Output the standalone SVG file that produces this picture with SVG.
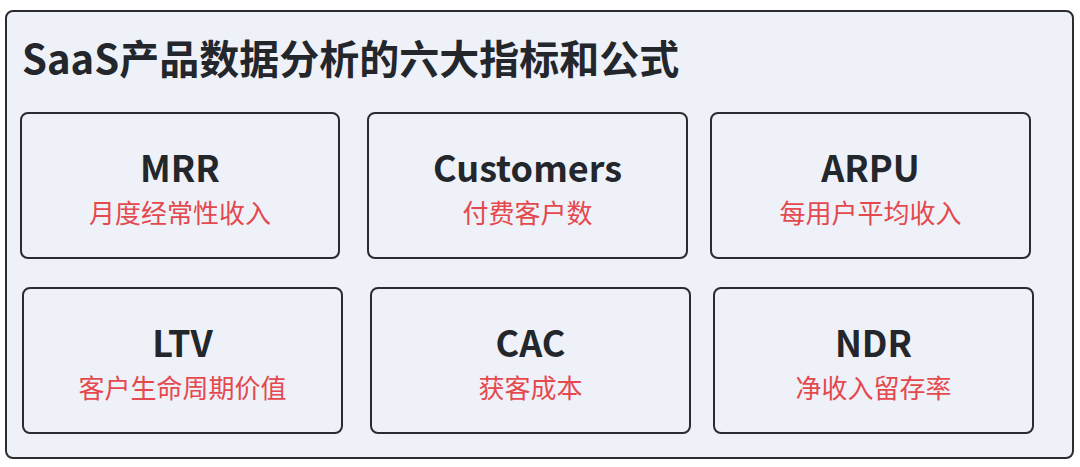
<svg xmlns="http://www.w3.org/2000/svg" width="1080" height="467" viewBox="0 0 1080 467">
<style>
.frame{fill:#eef1f8;stroke:#2a2c30;stroke-width:2}
.node{fill:#eef1f8;stroke:#2a2c30;stroke-width:2}
.title{font-family:"Noto Sans CJK SC","Noto Sans",sans-serif;font-weight:700;font-size:40px;fill:#23262b}
.name{font-family:"Noto Sans CJK SC","Noto Sans",sans-serif;font-weight:700;font-size:36px;fill:#23262b;text-anchor:middle}
.desc{font-family:"Noto Sans CJK SC","Noto Sans",sans-serif;font-weight:400;font-size:26px;fill:#e5484d;text-anchor:middle}
</style>
<rect width="1080" height="467" fill="#ffffff"/>
<rect class="frame" x="6" y="11" width="1067" height="447" rx="7"/>
<text class="title" x="22" y="74">SaaS产品数据分析的六大指标和公式</text>
<g id="mrr">
<rect class="node" x="21" y="113" width="318" height="145" rx="7"/>
<text class="name" x="180" y="182">MRR</text>
<text class="desc" x="180" y="223">月度经常性收入</text>
</g>
<g id="customers">
<rect class="node" x="368" y="113" width="319" height="145" rx="7"/>
<text class="name" x="527.5" y="182">Customers</text>
<text class="desc" x="527.5" y="223">付费客户数</text>
</g>
<g id="arpu">
<rect class="node" x="711" y="113" width="319" height="145" rx="7"/>
<text class="name" x="870.5" y="182">ARPU</text>
<text class="desc" x="870.5" y="223">每用户平均收入</text>
</g>
<g id="ltv">
<rect class="node" x="23" y="288" width="319" height="145" rx="7"/>
<text class="name" x="182.5" y="357">LTV</text>
<text class="desc" x="182.5" y="398">客户生命周期价值</text>
</g>
<g id="cac">
<rect class="node" x="371" y="288" width="319" height="145" rx="7"/>
<text class="name" x="530.5" y="357">CAC</text>
<text class="desc" x="530.5" y="398">获客成本</text>
</g>
<g id="ndr">
<rect class="node" x="714" y="288" width="319" height="145" rx="7"/>
<text class="name" x="873.5" y="357">NDR</text>
<text class="desc" x="873.5" y="398">净收入留存率</text>
</g>
<g id="connectors"></g>
</svg>
